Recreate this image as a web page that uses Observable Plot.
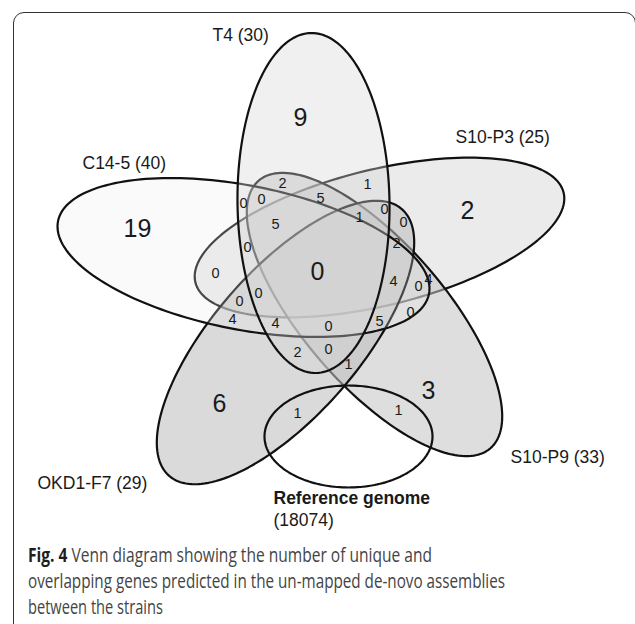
<!DOCTYPE html>
<html>
<head>
<meta charset="utf-8">
<script src="https://cdn.jsdelivr.net/npm/d3@7"></script>
<script src="https://cdn.jsdelivr.net/npm/@observablehq/plot@0.6"></script>
<style>
  html, body { margin: 0; padding: 0; background: #fff; overflow: hidden; width: 635px; height: 624px; }
  #chart { position: absolute; left: 0; top: 0; }
  #frame { position: absolute; left: 13px; top: 12px; width: 623px; height: 700px; box-sizing: border-box;
           border: 1.3px solid #333; border-radius: 11px; pointer-events: none; }
  #caption { position: absolute; left: 28px; top: 542px; font-family: "Open Sans", "Noto Sans", sans-serif;
             font-size: 20px; color: #444; line-height: 26px; }
  .cl { display: block; width: max-content; white-space: nowrap; transform-origin: 0 50%; }
  .cl b { color: #1e1e1e; font-weight: 700; }
</style>
</head>
<body>
<div id="chart"></div>
<div id="caption">
  <div class="cl" data-w="404"><b>Fig. 4</b> Venn diagram showing the number of unique and</div>
  <div class="cl" data-w="477">overlapping genes predicted in the un-mapped de-novo assemblies</div>
  <div class="cl" data-w="135">between the strains</div>
</div>
<div id="frame"></div>
<script>
// ---------------- DATA ----------------
const setNames = ["T4", "C14-5", "S10-P3", "S10-P9", "OKD1-F7"];
const setTotals = [30, 40, 25, 33, 29];
const referenceName = "Reference genome";
const referenceTotal = 18074;
// region counts (unique regions first, then all-five core, then the smaller overlaps)
const uniqueCounts = [9, 19, 2, 3, 6];
const coreCount = 0;
const overlapCounts = [2, 1, 0, 0, 5, 0, 5, 1, 0, 0, 2, 0, 4, 0, 4, 0, 0, 0, 4, 4, 0, 5, 2, 0, 1];
const referenceOverlapCounts = [1, 1];

// ---------------- LAYOUT (pixel geometry of the diagram) ----------------
const W = 635, H = 528;
// ellipses in drawing order: centre, semi-axes, rotation, fill styling
const ellipseLayout = [
  {name: "S10-P3",  cx: 379, cy: 237,   a: 189.5, b: 68, angle: -13.7, fill: "#d7d7d7", op: 0.50},
  {name: "S10-P9",  cx: 374, cy: 314,   a: 177,   b: 71, angle: 49.1,  fill: "#c3c3c3", op: 0.55},
  {name: "OKD1-F7", cx: 285, cy: 342,   a: 177,   b: 73, angle: -48.9, fill: "#bebebe", op: 0.57},
  {name: "C14-5",   cx: 243, cy: 257,   a: 189,   b: 72, angle: 11.1,  fill: "#ebebeb", op: 0.25},
  {name: "T4",      cx: 313, cy: 202.5, a: 170,   b: 76, angle: 89.2,  fill: "#d7d7d7", op: 0.37}
];
const referenceLayout = {cx: 348, cy: 436, a: 84, b: 51, angle: 0};
const setLabelPos = {"T4": [212, 35], "C14-5": [82, 163], "S10-P3": [455, 137], "S10-P9": [510, 457], "OKD1-F7": [37, 483]};
const referenceLabelPos = [273, 498];
const uniquePos = [[300, 117], [137, 228], [467, 210], [428, 390], [219, 403]];
const corePos = [317, 271];
const overlapPos = [
  [282, 183], [367, 184], [243, 203], [261, 199], [320, 198], [384, 209], [275, 224], [359, 217],
  [403, 222], [247, 247], [396, 243], [215, 273], [393, 281], [418, 286], [428, 279], [258, 293],
  [239, 301], [410, 312], [232, 319], [275, 323], [328, 326], [379, 321], [297, 352], [328, 349],
  [348, 364]
];
const referenceOverlapPos = [[297, 413], [398, 410]];

// ---------------- BUILD ----------------
function outline(e) {
  const th = e.angle * Math.PI / 180, c = Math.cos(th), s = Math.sin(th);
  return d3.range(0, 360, 2).map(d => {
    const t = d * Math.PI / 180;
    const u = e.a * Math.cos(t), v = e.b * Math.sin(t);
    return {x: e.cx + u * c - v * s, y: e.cy + u * s + v * c};
  });
}

const FONT = "Liberation Sans, Arial, Helvetica, sans-serif";
const marks = [];
for (const e of ellipseLayout) {
  marks.push(Plot.line(outline(e), {x: "x", y: "y", curve: "linear-closed",
    fill: e.fill, fillOpacity: e.op, stroke: "#111", strokeWidth: 2.2}));
}
marks.push(Plot.line(outline(referenceLayout), {x: "x", y: "y", curve: "linear-closed",
  fill: "none", stroke: "#111", strokeWidth: 2.2}));

const setLabels = setNames.map((n, i) => ({x: setLabelPos[n][0], y: setLabelPos[n][1], t: `${n} (${setTotals[i]})`}));
marks.push(Plot.text(setLabels, {x: "x", y: "y", text: "t", textAnchor: "start", fontSize: 17.5, fontFamily: FONT, fill: "#1a1a1a"}));
marks.push(Plot.text([{x: referenceLabelPos[0], y: referenceLabelPos[1], t: referenceName}],
  {x: "x", y: "y", text: "t", textAnchor: "start", fontSize: 17.5, fontWeight: "bold", fontFamily: FONT, fill: "#1a1a1a"}));
marks.push(Plot.text([{x: referenceLabelPos[0], y: referenceLabelPos[1] + 22, t: `(${referenceTotal})`}],
  {x: "x", y: "y", text: "t", textAnchor: "start", fontSize: 17.5, fontFamily: FONT, fill: "#1a1a1a"}));

const big = uniqueCounts.map((v, i) => ({x: uniquePos[i][0], y: uniquePos[i][1], t: String(v)}));
big.push({x: corePos[0], y: corePos[1], t: String(coreCount)});
marks.push(Plot.text(big, {x: "x", y: "y", text: "t", fontSize: 25, fontFamily: FONT, fill: "#1a1a1a"}));

const small = overlapCounts.map((v, i) => ({x: overlapPos[i][0], y: overlapPos[i][1], t: String(v)}))
  .concat(referenceOverlapCounts.map((v, i) => ({x: referenceOverlapPos[i][0], y: referenceOverlapPos[i][1], t: String(v)})));
marks.push(Plot.text(small, {x: "x", y: "y", text: "t", fontSize: 14.5, fontFamily: FONT, fill: "#1a1a1a"}));

const chart = Plot.plot({
  width: W, height: H, margin: 0,
  x: {domain: [0, W], range: [0, W], axis: null},
  y: {domain: [0, H], range: [0, H], axis: null},
  style: {background: "transparent", overflow: "visible"},
  marks
});
document.getElementById("chart").appendChild(chart);

function fitCaption() {
  document.querySelectorAll(".cl").forEach(el => {
    el.style.transform = "none";
    const w = el.getBoundingClientRect().width;
    if (w > 0) el.style.transform = `scaleX(${(+el.dataset.w) / w})`;
  });
}
fitCaption();
if (document.fonts && document.fonts.ready) document.fonts.ready.then(fitCaption);
</script>
</body>
</html>
